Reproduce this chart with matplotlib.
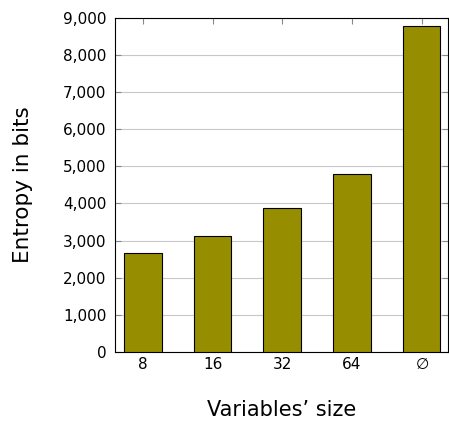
import matplotlib
matplotlib.use("Agg")
import matplotlib.pyplot as plt
from matplotlib.ticker import FuncFormatter

sizes = ["8", "16", "32", "64", r"$\emptyset$"]
entropy = [2670, 3120, 3870, 4780, 8770]

plt.rcParams['font.family'] = ['DejaVu Sans']

fig = plt.figure(figsize=(4.49, 4.24), dpi=100)
ax = fig.add_axes([0.256, 0.170, 0.742, 0.788])

x = list(range(len(sizes)))
ax.bar(x, entropy, width=0.54, color='#978d00', edgecolor='black', linewidth=0.8, zorder=3)

ax.set_xlim(-0.4, 4.38)
ax.set_ylim(0, 9000)
ax.set_xticks(x)
ax.set_xticklabels(sizes)
ax.set_yticks(range(0, 9001, 1000))
ax.yaxis.set_major_formatter(FuncFormatter(lambda v, p: f"{int(v):,}"))
ax.grid(axis='y', color='#c8c8c8', linewidth=0.8, zorder=0)
ax.tick_params(direction='in', top=True, right=True, length=4, color='#888888', labelsize=11)
ax.tick_params(axis='y', pad=6)
ax.tick_params(axis='x', pad=4)
for s in ax.spines.values():
    s.set_linewidth(0.8)

ax.set_xlabel("Variables’ size", fontsize=15, labelpad=20)
ax.set_ylabel("Entropy in bits", fontsize=15.5, labelpad=22)

fig.savefig("out.png", dpi=100)
